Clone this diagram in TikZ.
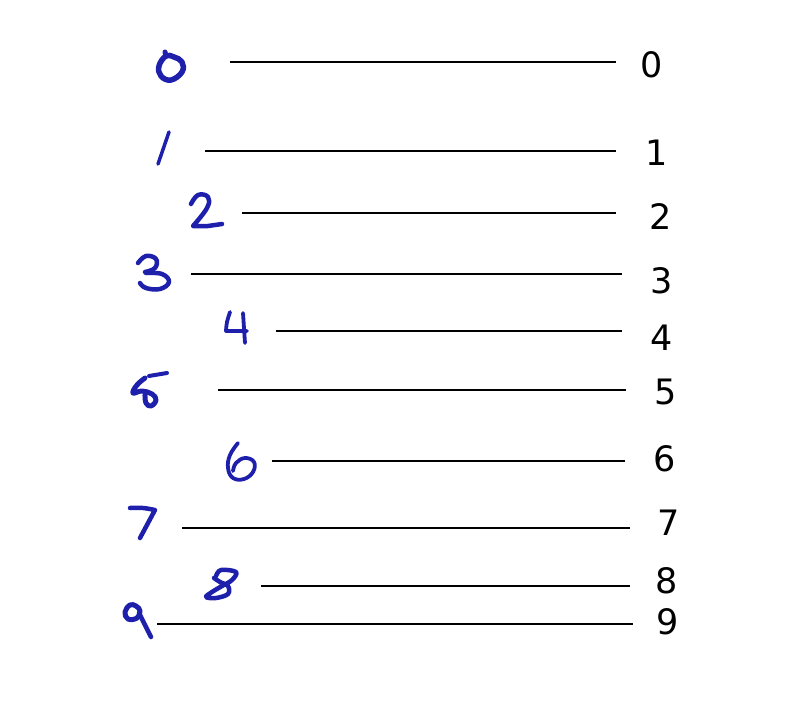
\documentclass[tikz,border=0pt]{standalone}
\usepackage{fontspec}
\setmainfont{DejaVu Sans}
\definecolor{ink}{RGB}{30,32,172}
\begin{document}
\begin{tikzpicture}[x=1pt,y=-1pt,
  hand/.style={draw=ink,line width=4.5pt,line cap=round,line join=round},
  rule/.style={draw=black,line width=1.8pt},
  lab/.style={font=\fontsize{35}{40}\selectfont,inner sep=0pt,text=black}]
\useasboundingbox (0,0) rectangle (800,720);
% lines and labels
\foreach \i/\xa/\xb/\y/\lx/\ly in {0/230/616/62/652/65, 1/205/616/151/657/153, 2/242/616/213/661/217,
  3/191/622/274/662/281, 4/276/622/331/662/338, 5/218/626/390/666/392, 6/272/625/461/665/459,
  7/182/630/528/669/523, 8/261/630/586/667/581, 9/157/633/624/668/622}{
  \coordinate (s\i) at (\xa,\y);
  \coordinate (e\i) at (\xb,\y);
  \node[lab] (l\i) at (\lx,\ly) {\i};
  \draw[rule] (s\i) -- (e\i);
}
% handwritten digits
% 0
\draw[hand,line width=5.5pt] plot[smooth cycle,tension=0.7] coordinates {(166,56) (159,66) (161,76) (171,80) (182,72) (182,62) (174,57)};
\draw[hand,line width=5pt] (166,56) -- (165,52);
% 1
\draw[hand,line width=3.5pt] (169,132) -- (158,164);
% 2
\draw[hand] plot[smooth,tension=0.7] coordinates {(191,204) (198,195) (208,197) (207,208) (193,226)} -- (208,226) -- (222,224);
% 3
\draw[hand] plot[smooth,tension=0.7] coordinates {(138,263) (146,256) (156,259) (155,268) (145,272)};
\draw[hand] plot[smooth,tension=0.7] coordinates {(146,273) (162,274) (169,282) (160,289) (146,288) (140,283)};
% 4
\draw[hand,line width=3.8pt] plot[smooth,tension=0.6] coordinates {(230,312) (227,322) (226,331)} -- (247,331);
\draw[hand,line width=3.8pt] (243,313) -- (245,343);
% 5
\draw[hand,line width=4pt] (149,376) -- (167,373);
\draw[hand,line width=5pt] plot[smooth,tension=0.7] coordinates {(145,378) (137,385) (133,393) (142,391) (152,394) (156,400) (151,406) (146,403) (145,395)};
% 6
\draw[hand,line width=3.8pt] plot[smooth,tension=0.7] coordinates {(238,443) (230,455) (228,468) (233,478) (244,479) (253,472) (254,462) (245,458) (236,463) (233,471)};
% 7
\draw[hand] plot[smooth,tension=0.6] coordinates {(130,508) (143,508) (155,510)} -- (140,538);
% 8
\draw[hand] plot[smooth,tension=0.6] coordinates {(216,576) (221,570) (236,572) (232,580) (222,586) (212,592) (206,597) (216,598) (228,594) (228,586) (220,582) (214,578)};
% 9
\draw[hand,line width=5pt] plot[smooth cycle,tension=0.7] coordinates {(130,605) (125,612) (128,619) (137,618) (140,611) (136,606)};
\draw[hand] (139,613) -- (151,637);
\end{tikzpicture}
\end{document}
